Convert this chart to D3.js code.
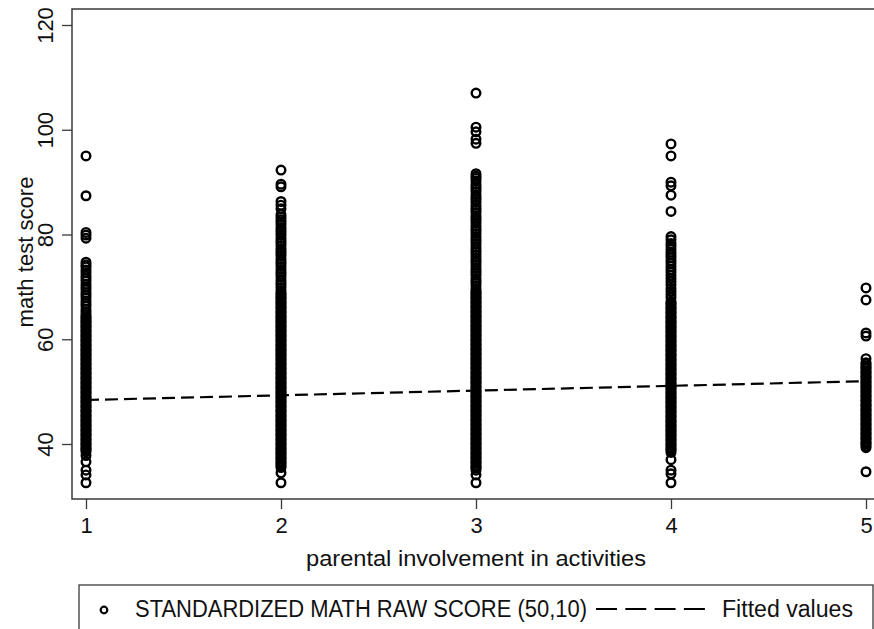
<!DOCTYPE html>
<html>
<head>
<meta charset="utf-8">
<script src="https://cdn.jsdelivr.net/npm/d3@7"></script>
<style>
  body { margin: 0; background: #fff; }
  text { font-family: "Liberation Sans", Arial, Helvetica, sans-serif; fill: #111; }
</style>
</head>
<body>
<script>
// parental involvement categories and tick labels
const categories = [1, 2, 3, 4, 5];
const xTicks = [1, 2, 3, 4, 5];
const yTicks = [40, 60, 80, 100, 120];

// math test scores; the solid parts of a column are many
// overlapping scores, listed here as closely as the picture allows
const scores1 = [95.0, 87.4, 80.4, 79.9, 79.3,
  74.7, 74.2, 73.8, 73.2, 72.7, 72.1, 71.6, 71.1, 70.5, 70.0, 69.5, 68.9, 68.4, 67.9, 67.3,
  66.8, 66.3, 65.7, 65.2, 64.7,
  64.3, 64.1, 63.7, 63.4, 63.2, 62.8, 62.5, 62.3, 61.9, 61.6, 61.4, 61.0, 60.7, 60.5, 60.1,
  59.8, 59.6, 59.2, 58.9, 58.7, 58.3, 58.0, 57.8, 57.4, 57.1, 56.9, 56.5, 56.2, 56.0, 55.6,
  55.3, 55.1, 54.7, 54.4, 54.2, 53.8, 53.5, 53.3, 52.9, 52.6, 52.4, 52.0, 51.7, 51.5, 51.1,
  50.8, 50.6, 50.2, 49.9, 49.7, 49.3, 49.0, 48.8, 48.4, 48.1, 47.9, 47.5, 47.2, 47.0, 46.6,
  46.3, 46.1, 45.7, 45.4, 45.2, 44.8, 44.5, 44.3, 43.9, 43.6, 43.4, 43.0, 42.7, 42.5, 42.1,
  41.8, 41.6, 41.2, 40.9, 40.7, 40.3, 40.0, 39.8, 39.4, 39.1, 38.9, 38.5,
  37.8, 36.6, 35.0, 34.1, 32.6];
const scores2 = [92.3, 89.6, 89.1, 86.3, 85.6, 84.9, 83.8,
  83.3, 82.8, 82.4, 81.9, 81.3, 80.8, 80.4, 79.9, 79.3, 78.8, 78.4, 77.9, 77.3, 76.8, 76.4,
  75.9, 75.3, 74.8, 74.4, 73.9, 73.3, 72.8, 72.4, 71.9, 71.3, 70.8, 70.4, 69.9, 69.3,
  68.8, 68.6, 68.2, 67.9, 67.7, 67.3, 67.0, 66.8, 66.4, 66.1, 65.9, 65.5, 65.2, 65.0, 64.6,
  64.3, 64.1, 63.7, 63.4, 63.2, 62.8, 62.5, 62.3, 61.9, 61.6, 61.4, 61.0, 60.7, 60.5, 60.1,
  59.8, 59.6, 59.2, 58.9, 58.7, 58.3, 58.0, 57.8, 57.4, 57.1, 56.9, 56.5, 56.2, 56.0, 55.6,
  55.3, 55.1, 54.7, 54.4, 54.2, 53.8, 53.5, 53.3, 52.9, 52.6, 52.4, 52.0, 51.7, 51.5, 51.1,
  50.8, 50.6, 50.2, 49.9, 49.7, 49.3, 49.0, 48.8, 48.4, 48.1, 47.9, 47.5, 47.2, 47.0, 46.6,
  46.3, 46.1, 45.7, 45.4, 45.2, 44.8, 44.5, 44.3, 43.9, 43.6, 43.4, 43.0, 42.7, 42.5, 42.1,
  41.8, 41.6, 41.2, 40.9, 40.7, 40.3, 40.0, 39.8, 39.4, 39.1, 38.9, 38.5, 38.2, 38.0, 37.6,
  37.3, 37.1, 36.7, 36.4, 36.2, 35.8, 35.5,
  34.5, 32.6];
const scores3 = [107.0, 100.5, 99.6, 98.2, 97.4,
  91.6, 91.1, 90.7, 90.2, 89.6, 89.1, 88.7, 88.2, 87.6, 87.1, 86.7, 86.2, 85.6, 85.1, 84.7,
  84.2, 83.6, 83.1, 82.7, 82.2, 81.6, 81.1, 80.7, 80.2, 79.6, 79.1, 78.7, 78.2, 77.6, 77.1,
  76.7, 76.2, 75.6, 75.1, 74.7, 74.2, 73.6, 73.1, 72.7, 72.2, 71.6, 71.1, 70.7, 70.2, 69.6,
  69.2,
  68.9, 68.7, 68.3, 68.0, 67.8, 67.4, 67.1, 66.9, 66.5, 66.2, 66.0, 65.6, 65.3, 65.1, 64.7,
  64.4, 64.2, 63.8, 63.5, 63.3, 62.9, 62.6, 62.4, 62.0, 61.7, 61.5, 61.1, 60.8, 60.6, 60.2,
  59.9, 59.7, 59.3, 59.0, 58.8, 58.4, 58.1, 57.9, 57.5, 57.2, 57.0, 56.6, 56.3, 56.1, 55.7,
  55.4, 55.2, 54.8, 54.5, 54.3, 53.9, 53.6, 53.4, 53.0, 52.7, 52.5, 52.1, 51.8, 51.6, 51.2,
  50.9, 50.7, 50.3, 50.0, 49.8, 49.4, 49.1, 48.9, 48.5, 48.2, 48.0, 47.6, 47.3, 47.1, 46.7,
  46.4, 46.2, 45.8, 45.5, 45.3, 44.9, 44.6, 44.4, 44.0, 43.7, 43.5, 43.1, 42.8, 42.6, 42.2,
  41.9, 41.7, 41.3, 41.0, 40.8, 40.4, 40.1, 39.9, 39.5, 39.2, 39.0, 38.6, 38.3, 38.1, 37.7,
  37.4, 37.2, 36.8, 36.5, 36.3, 35.9, 35.6, 35.4, 35.0,
  34.1, 32.6];
const scores4 = [97.3, 95.0, 90.0, 89.3, 87.5, 84.4,
  79.6, 79.0, 78.3, 77.8, 77.2, 76.6, 76.1, 75.6, 75.0, 74.5, 73.9, 73.3, 72.8, 72.2, 71.6,
  71.0, 70.4, 69.7, 69.1, 68.5, 67.9,
  67.2, 66.9, 66.7, 66.3, 66.0, 65.8, 65.4, 65.1, 64.9, 64.5, 64.2, 64.0, 63.6, 63.3, 63.1,
  62.7, 62.4, 62.2, 61.8, 61.5, 61.3, 60.9, 60.6, 60.4, 60.0, 59.7, 59.5, 59.1, 58.8, 58.6,
  58.2, 57.9, 57.7, 57.3, 57.0, 56.8, 56.4, 56.1, 55.9, 55.5, 55.2, 55.0, 54.6, 54.3, 54.1,
  53.7, 53.4, 53.2, 52.8, 52.5, 52.3, 51.9, 51.6, 51.4, 51.0, 50.7, 50.5, 50.1, 49.8, 49.6,
  49.2, 48.9, 48.7, 48.3, 48.0, 47.8, 47.4, 47.1, 46.9, 46.5, 46.2, 46.0, 45.6, 45.3, 45.1,
  44.7, 44.4, 44.2, 43.8, 43.5, 43.3, 42.9, 42.6, 42.4, 42.0, 41.7, 41.5, 41.1, 40.8, 40.6,
  40.2, 39.9, 39.7, 39.3, 39.0, 38.8, 38.4,
  37.0, 35.0, 34.3, 32.6];
const scores5 = [69.8, 67.5, 61.2, 60.6, 56.3,
  55.5, 55.3, 54.9, 54.6, 54.4, 54.0, 53.7, 53.5, 53.1, 52.8, 52.6, 52.2, 51.9, 51.7, 51.3,
  51.0, 50.8, 50.4, 50.1, 49.9, 49.5, 49.2, 49.0, 48.6, 48.3, 48.1, 47.7, 47.4, 47.2, 46.8,
  46.5, 46.3, 45.9, 45.6, 45.4, 45.0, 44.7, 44.5, 44.1, 43.8, 43.6, 43.2, 42.9, 42.7, 42.3,
  42.0, 41.8, 41.4, 41.1, 40.9, 40.5, 40.2, 40.0, 39.6, 39.3,
  34.7];

// fitted values (linear fit) at the two ends of the x range
const fitX = [1, 5];
const fitY = [48.4, 52.0];

const seriesLabel = "STANDARDIZED MATH RAW SCORE (50,10)";
const fitLabel = "Fitted values";

const W = 874, H = 629;
const frame = {left: 72, top: 9, right: 880, bottom: 499};

const svg = d3.select('body')
  .append('svg')
  .attr('width', W)
  .attr('height', H);

const x = d3.scaleLinear().domain([1, 5]).range([86, 866]);
const y = d3.scaleLinear().domain([40, 120]).range([444, 25]);

const ink = '#000';
const axisCol = '#3a3a3a';

// plot frame
svg.append('rect')
  .attr('x', frame.left)
  .attr('y', frame.top)
  .attr('width', frame.right - frame.left)
  .attr('height', frame.bottom - frame.top)
  .attr('fill', 'none')
  .attr('stroke', axisCol)
  .attr('stroke-width', 1.5);

// y axis
const yAxis = svg.append('g')
  .attr('transform', `translate(${frame.left},0)`)
  .call(d3.axisLeft(y).tickValues(yTicks).tickSize(10).tickFormat(d3.format('d')));
yAxis.select('.domain').remove();
yAxis.selectAll('.tick line').attr('stroke', axisCol).attr('stroke-width', 1.3);
yAxis.selectAll('.tick text')
  .attr('transform', 'rotate(-90)')
  .attr('x', 0)
  .attr('y', -19)
  .attr('dy', 0)
  .attr('text-anchor', 'middle')
  .style('font-size', '22px')
  .attr('fill', '#111');

// x axis
const xAxis = svg.append('g')
  .attr('transform', `translate(0,${frame.bottom})`)
  .call(d3.axisBottom(x).tickValues(xTicks).tickSize(10).tickFormat(d3.format('d')));
xAxis.select('.domain').remove();
xAxis.selectAll('.tick line').attr('stroke', axisCol).attr('stroke-width', 1.3);
xAxis.selectAll('.tick text')
  .attr('y', 34)
  .attr('dy', 0)
  .style('font-size', '22px')
  .attr('fill', '#111');

// axis titles
svg.append('text')
  .attr('transform', 'translate(33,252) rotate(-90)')
  .attr('text-anchor', 'middle')
  .attr('textLength', 151)
  .attr('lengthAdjust', 'spacingAndGlyphs')
  .style('font-size', '22px')
  .text('math test score');

svg.append('text')
  .attr('x', 476)
  .attr('y', 566)
  .attr('text-anchor', 'middle')
  .attr('textLength', 340)
  .attr('lengthAdjust', 'spacingAndGlyphs')
  .style('font-size', '22px')
  .text('parental involvement in activities');

// scatter points
const groups = [scores1, scores2, scores3, scores4, scores5];
const points = [];
categories.forEach((c, i) => groups[i].forEach(v => points.push({cat: c, score: v})));

svg.append('g')
  .selectAll('circle')
  .data(points)
  .enter()
  .append('circle')
    .attr('cx', d => x(d.cat))
    .attr('cy', d => y(d.score))
    .attr('r', 4.3)
    .attr('fill', 'none')
    .attr('stroke', ink)
    .attr('stroke-width', 2.4);

// fitted line
const fitLine = d3.line()
  .x(d => x(d[0]))
  .y(d => y(d[1]));

svg.append('path')
  .datum(fitX.map((v, i) => [v, fitY[i]]))
  .attr('d', fitLine)
  .attr('fill', 'none')
  .attr('stroke', ink)
  .attr('stroke-width', 2.2)
  .attr('stroke-dasharray', '13,6');

// legend
const legend = svg.append('g');
legend.append('rect')
  .attr('x', 79)
  .attr('y', 585)
  .attr('width', 794)
  .attr('height', 80)
  .attr('fill', 'none')
  .attr('stroke', axisCol)
  .attr('stroke-width', 1.3);
legend.append('circle')
  .attr('cx', 104)
  .attr('cy', 610)
  .attr('r', 3.3)
  .attr('fill', 'none')
  .attr('stroke', ink)
  .attr('stroke-width', 2.2);
legend.append('text')
  .attr('x', 135)
  .attr('y', 617)
  .attr('textLength', 452)
  .attr('lengthAdjust', 'spacingAndGlyphs')
  .style('font-size', '23px')
  .text(seriesLabel);
legend.append('line')
  .attr('x1', 596)
  .attr('x2', 705)
  .attr('y1', 609)
  .attr('y2', 609)
  .attr('stroke', ink)
  .attr('stroke-width', 2.2)
  .attr('stroke-dasharray', '21,8.3');
legend.append('text')
  .attr('x', 722)
  .attr('y', 617)
  .attr('textLength', 131)
  .attr('lengthAdjust', 'spacingAndGlyphs')
  .style('font-size', '23px')
  .text(fitLabel);
</script>
</body>
</html>
